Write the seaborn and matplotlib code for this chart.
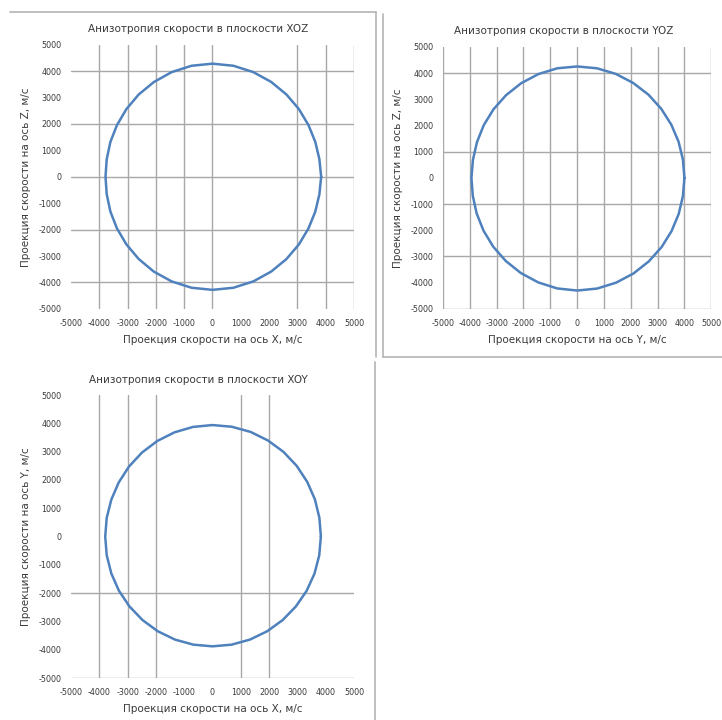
import numpy as np
import pandas as pd
import matplotlib
matplotlib.use("Agg")
import matplotlib.pyplot as plt
import seaborn as sns
from matplotlib.lines import Line2D

# angles of the measured directions, degrees
angles = list(range(0, 361, 10))

# speed magnitude, m/s, read from each plane
v_xoz = [3840, 3835, 3865, 3915, 3985, 4065, 4145, 4215, 4265, 4280,
         4265, 4215, 4140, 4060, 3975, 3900, 3840, 3795, 3780,
         3795, 3840, 3900, 3975, 4060, 4145, 4215, 4265, 4280,
         4265, 4215, 4145, 4065, 3985, 3915, 3865, 3835, 3840]
v_yoz = [4000, 4005, 4025, 4055, 4095, 4140, 4180, 4220, 4245, 4250,
         4245, 4215, 4170, 4120, 4070, 4020, 3975, 3945, 3940,
         3950, 3985, 4030, 4085, 4140, 4195, 4245, 4285, 4300,
         4290, 4255, 4210, 4160, 4110, 4065, 4030, 4005, 4000]
v_xoy = [3830, 3835, 3850, 3865, 3885, 3905, 3920, 3935, 3940, 3940,
         3935, 3920, 3900, 3875, 3850, 3825, 3805, 3795, 3790,
         3795, 3805, 3820, 3835, 3850, 3865, 3875, 3880, 3880,
         3880, 3875, 3865, 3855, 3845, 3840, 3835, 3830, 3830]

ticks = list(range(-5000, 5001, 1000))

panels = [
    dict(v=v_xoz, title="Анизотропия скорости в плоскости XOZ",
         xlabel="Проекция скорости на ось X, м/с",
         ylabel="Проекция скорости на ось Z, м/с",
         vgrid=[-4000, -3000, -2000, -1000, 0, 3000, 4000, 5000],
         hgrid=[4000, 2000, 0, -2000, -4000],
         rect=[0.0983, 0.571, 0.392, 0.367]),
    dict(v=v_yoz, title="Анизотропия скорости в плоскости YOZ",
         xlabel="Проекция скорости на ось Y, м/с",
         ylabel="Проекция скорости на ось Z, м/с",
         vgrid=ticks,
         hgrid=[4000, 1000, -1000, -3000, -5000],
         rect=[0.6136, 0.571, 0.3715, 0.364]),
    dict(v=v_xoy, title="Анизотропия скорости в плоскости XOY",
         xlabel="Проекция скорости на ось X, м/с",
         ylabel="Проекция скорости на ось Y, м/с",
         vgrid=[-4000, -3000, -2000, 1000, 2000],
         hgrid=[-2000, -5000],
         rect=[0.0983, 0.0583, 0.392, 0.393]),
]

sns.set_style("white")
plt.rcParams['font.family'] = ['DejaVu Sans']
plt.rcParams['axes.unicode_minus'] = False

fig = plt.figure(figsize=(7.22, 7.2), dpi=100)

text_col = "#3a3a3a"
grid_col = "#a8a8a8"

for p in panels:
    ax = fig.add_axes(p["rect"])
    th = np.deg2rad(angles)
    df = pd.DataFrame({"x": np.array(p["v"]) * np.cos(th),
                       "y": np.array(p["v"]) * np.sin(th)})
    for g in p["vgrid"]:
        ax.axvline(g, color=grid_col, lw=1.0, zorder=0)
    for g in p["hgrid"]:
        ax.axhline(g, color=grid_col, lw=1.0, zorder=0)
    sns.lineplot(data=df, x="x", y="y", sort=False, estimator=None,
                 color="#4f81bd", lw=1.8, ax=ax, zorder=3)
    ax.set_xlim(-5000, 5000)
    ax.set_ylim(-5000, 5000)
    ax.set_xticks(ticks)
    ax.set_yticks(ticks)
    ax.tick_params(length=0, labelsize=5.8, colors=text_col, pad=7)
    for s in ax.spines.values():
        s.set_visible(False)
    ax.grid(False)
    ax.set_xlabel(p["xlabel"], fontsize=7.5, color=text_col, labelpad=5)
    ax.set_ylabel(p["ylabel"], fontsize=7.5, color=text_col, labelpad=5)
    ax.set_title(p["title"], fontsize=7.5, color=text_col, pad=9, x=0.45)

# frames around the charts
border = "#b4b4b4"
lines = [((10, 376), (12, 12)), ((376, 376), (12, 357)),
         ((375, 375), (362, 720)), ((383, 383), (14, 357)),
         ((383, 722), (357, 357))]
for xs, ys in lines:
    fig.add_artist(Line2D([x / 722 for x in xs], [1 - y / 720 for y in ys],
                          color=border, lw=1.2, transform=fig.transFigure))

fig.savefig("out.png", dpi=100)
